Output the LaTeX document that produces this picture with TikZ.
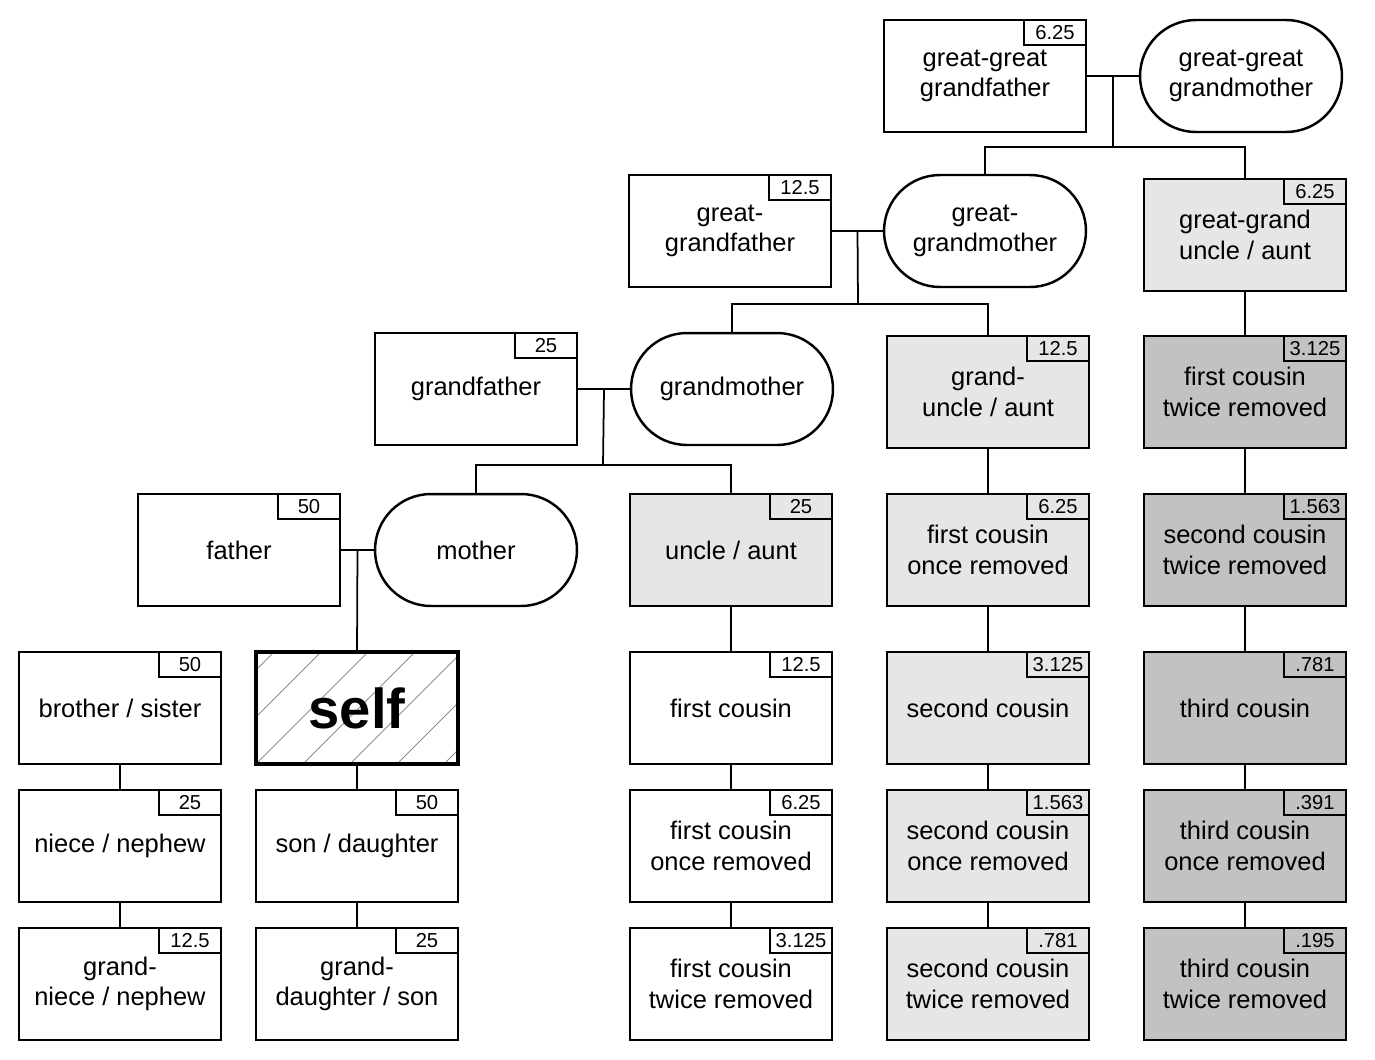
\documentclass[tikz,border=0pt]{standalone}
\usepackage{fontspec}
\setmainfont{Liberation Sans}
\usetikzlibrary{positioning,calc}
\definecolor{kgry}{HTML}{E6E6E6}
\definecolor{kdrk}{HTML}{C2C2C2}
\tikzset{
  kin/.style   ={draw=black, line width=1.4pt, outer sep=0pt, fill=white,
                 minimum width=4.04cm, minimum height=2.24cm, inner sep=2pt,
                 align=center, font=\fontsize{14.5}{17.4}\selectfont},
  mom/.style   ={kin, rounded corners=1.12cm},
  near/.style  ={kin, fill=kgry},
  far/.style   ={kin, fill=kdrk},
  tag/.style   ={draw=black, line width=1.1pt, anchor=north east, outer sep=0pt,
                 minimum width=1.24cm, minimum height=0.5cm, inner sep=0pt,
                 font=\fontsize{11.5}{12}\selectfont},
  rel/.style   ={label={[tag]north east:#1}},
  selfbox/.style={kin, line width=2.8pt, font=\fontsize{32}{36}\selectfont\bfseries,
                 path picture={\foreach \k in {-3,...,4}
                   \draw[gray!90, line width=0.55pt]
                     ([xshift=\k*0.94cm]path picture bounding box.south west) -- ++(2.4cm,2.4cm);}},
  link/.style  ={line width=1pt, draw=black},
}
\begin{document}
\begin{tikzpicture}[x=0.02cm, y=-0.02cm]
  \useasboundingbox (0,0) rectangle (1375,1059);
  % ancestors
  \node[kin, rel=6.25] (ggpa) at (985,76) {great-great\\grandfather};
  \node[mom] (ggma) at (1241,76) {great-great\\grandmother};
  \node[kin, rel=12.5] (gpa2) at (730,231) {great-\\grandfather};
  \node[mom] (gma2) at (985,231) {great-\\grandmother};
  \node[near, rel=6.25] (ggua) at (1245,235) {great-grand\\uncle / aunt};
  \node[kin, rel=25] (gpa) at (476,389) {grandfather};
  \node[mom] (gma) at (732,389) {grandmother};
  \node[near, rel=12.5] (gua) at (988,392) {grand-\\uncle / aunt};
  \node[far, rel=3.125] (fc2e) at (1245,392) {first cousin\\twice removed};
  \node[kin, rel=50] (pa) at (239,550) {father};
  \node[mom] (ma) at (476,550) {mother};
  \node[near, rel=25] (ua) at (731,550) {uncle / aunt};
  \node[near, rel=6.25] (fc1d) at (988,550) {first cousin\\once removed};
  \node[far, rel=1.563] (sc2e) at (1245,550) {second cousin\\twice removed};
  % own generation and below
  \node[kin, rel=50] (sib) at (120,708) {brother / sister};
  \node[selfbox] (self) at (357,708) {self};
  \node[kin, rel=12.5] (fc) at (731,708) {first cousin};
  \node[near, rel=3.125] (sc) at (988,708) {second cousin};
  \node[far, rel=.781] (tc) at (1245,708) {third cousin};
  \node[kin, rel=25] (nn) at (120,846) {niece / nephew};
  \node[kin, rel=50] (kid) at (357,846) {son / daughter};
  \node[kin, rel=6.25] (fc1) at (731,846) {first cousin\\once removed};
  \node[near, rel=1.563] (sc1) at (988,846) {second cousin\\once removed};
  \node[far, rel=.391] (tc1) at (1245,846) {third cousin\\once removed};
  \node[kin, rel=12.5] (gnn) at (120,984) {grand-\\niece / nephew};
  \node[kin, rel=25] (gkid) at (357,984) {grand-\\daughter / son};
  \node[kin, rel=3.125] (fc2) at (731,984) {first cousin\\twice removed};
  \node[near, rel=.781] (sc2) at (988,984) {second cousin\\twice removed};
  \node[far, rel=.195] (tc2) at (1245,984) {third cousin\\twice removed};
  % couples and their children
  \coordinate (ggbar) at (1113,147);
  \coordinate (gbar) at (858,304);
  \coordinate (pbar) at (603,465);
  \draw[link] (ggpa) -- (ggma);
  \draw[link] ($(ggpa.east)!.5!(ggma.west)$) -- (ggbar);
  \draw[link] (gma2.north) |- (ggbar) -| (ggua.north);
  \draw[link] (gpa2) -- (gma2);
  \draw[link] ($(gpa2.east)!.5!(gma2.west)$) -- (gbar);
  \draw[link] (gma.north) |- (gbar) -| (gua.north);
  \draw[link] (gpa) -- (gma);
  \draw[link] ($(gpa.east)!.5!(gma.west)$) -- (pbar);
  \draw[link] (ma.north) |- (pbar) -| (ua.north);
  \draw[link] (pa) -- (ma);
  \draw[link] ($(pa.east)!.5!(ma.west)$) -- (self.north);
  % descent lines
  \draw[link] (sib) -- (nn) -- (gnn);
  \draw[link] (self) -- (kid) -- (gkid);
  \draw[link] (ua) -- (fc) -- (fc1) -- (fc2);
  \draw[link] (gua) -- (fc1d) -- (sc) -- (sc1) -- (sc2);
  \draw[link] (ggua) -- (fc2e) -- (sc2e) -- (tc) -- (tc1) -- (tc2);
\end{tikzpicture}
\end{document}
